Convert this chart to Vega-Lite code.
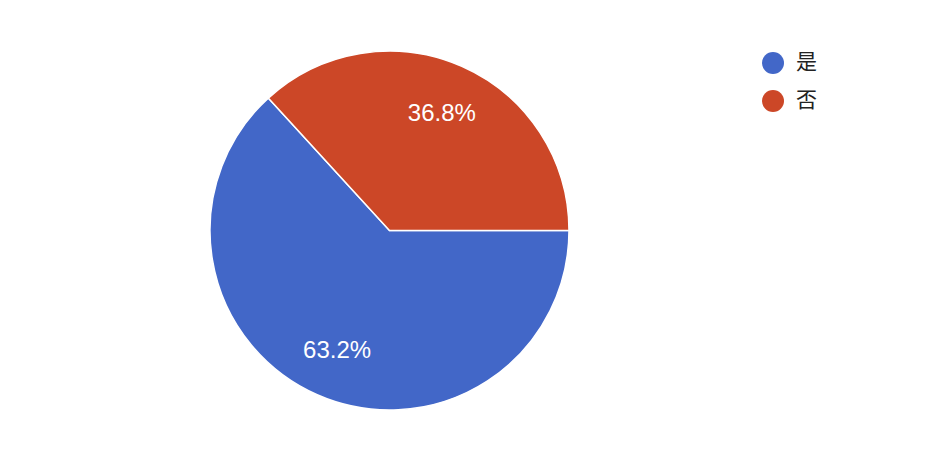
{
  "$schema": "https://vega.github.io/schema/vega-lite/v6.json",
  "width": 359,
  "height": 359,
  "autosize": {"type": "none"},
  "padding": {"left": 210, "top": 51, "right": 383, "bottom": 66},
  "background": "white",
  "config": {"view": {"stroke": null}},
  "data": {"values": [
    {"category": "是", "share": 0.632},
    {"category": "否", "share": 0.368}
  ]},
  "encoding": {
    "theta": {"field": "share", "type": "quantitative", "stack": true, "scale": {"range": [1.5707963, 7.8539816]}},
    "order": {"field": "category", "sort": "descending"},
    "color": {
      "field": "category", "type": "nominal",
      "scale": {"domain": ["是", "否"], "range": ["#4267c8", "#cc4727"]},
      "legend": {
        "title": null, "orient": "none", "legendX": 552, "legendY": 1,
        "symbolType": "circle", "symbolSize": 484, "symbolStrokeWidth": 0, "symbolOpacity": 1,
        "labelFont": "Noto Sans CJK SC", "labelFontSize": 21, "labelColor": "#222222",
        "labelOffset": 12, "rowPadding": 16
      }
    }
  },
  "layer": [
    {"mark": {"type": "arc", "stroke": "white", "strokeWidth": 1.5}},
    {"mark": {"type": "text", "radius": 130, "dy": 2, "fontSize": 24, "font": "Liberation Sans", "fill": "white", "baseline": "middle", "align": "center"},
     "encoding": {"text": {"field": "share", "type": "quantitative", "format": ".1%"}, "color": {"value": "white"}}}
  ]
}
